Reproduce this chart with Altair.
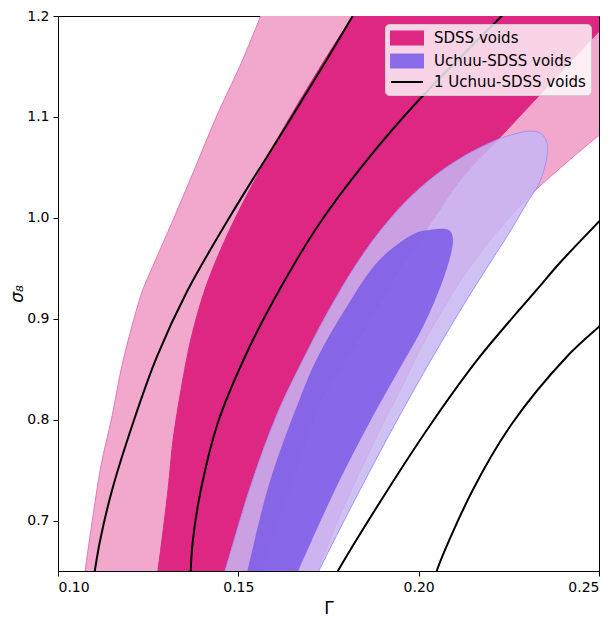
import altair as alt
import pandas as pd

SERIES = ["SDSS voids", "Uchuu-SDSS voids", "1 Uchuu-SDSS voids"]
X_TICKS = [0.10, 0.15, 0.20, 0.25]
Y_TICKS = [0.7, 0.8, 0.9, 1.0, 1.1, 1.2]

# SDSS voids, outer (2 sigma) contour: left edge bottom->top, right edge top->bottom
lp_left_x = [0.1071, 0.1075, 0.1097, 0.1119, 0.1150, 0.1177, 0.1213, 0.1235, 0.1263, 0.1324, 0.1382, 0.1440, 0.1504, 0.1562, 0.1573]
lp_left_y = [0.640, 0.650, 0.7045, 0.754, 0.8036, 0.853, 0.903, 0.9285, 0.952, 1.002, 1.051, 1.101, 1.150, 1.200, 1.210]
lp_right_x = [0.2704, 0.2704, 0.2494, 0.2411, 0.2323, 0.2253, 0.2183, 0.2130, 0.2083, 0.2000, 0.1949, 0.1902, 0.1859, 0.1813, 0.1765, 0.1720, 0.1710]
lp_right_y = [1.210, 1.140, 1.080, 1.055, 1.027, 1.001, 0.971, 0.945, 0.919, 0.867, 0.829, 0.797, 0.765, 0.730, 0.691, 0.650, 0.640]

# SDSS voids, inner (1 sigma) contour
dp_left_x = [0.1273, 0.1277, 0.1305, 0.1319, 0.1341, 0.1368, 0.1407, 0.1452, 0.1504, 0.1582, 0.1645, 0.1748, 0.1817, 0.1834]
dp_left_y = [0.640, 0.650, 0.7303, 0.7798, 0.8294, 0.8789, 0.9285, 0.9691, 1.0087, 1.0613, 1.1009, 1.1614, 1.200, 1.210]
dp_right_x = [0.2568, 0.2501, 0.2299, 0.2216, 0.2122, 0.2036, 0.1975, 0.1898, 0.1812, 0.1731, 0.1645, 0.1565, 0.1556]
dp_right_y = [1.210, 1.1851, 1.1078, 1.0761, 1.0405, 0.9959, 0.9651, 0.9186, 0.867, 0.8195, 0.7352, 0.650, 0.640]

# Uchuu-SDSS voids, outer contour
op_left_x = [0.1454, 0.1463, 0.1537, 0.1609, 0.1679, 0.1756, 0.1848, 0.1942, 0.2030, 0.2122, 0.2216, 0.2266, 0.2313]
op_left_y = [0.640, 0.650, 0.7372, 0.8066, 0.8591, 0.9116, 0.9651, 1.0077, 1.0375, 1.0603, 1.0771, 1.0831, 1.086]
op_right_x = [0.2341, 0.2355, 0.2357, 0.2349, 0.2332, 0.2305, 0.2256, 0.2203, 0.2133, 0.2039, 0.1936, 0.1856, 0.1780, 0.1723, 0.1709]
op_right_y = [1.0831, 1.0751, 1.0652, 1.0494, 1.0325, 1.0177, 0.9879, 0.9582, 0.9186, 0.8621, 0.7967, 0.7431, 0.6906, 0.650, 0.640]

# Uchuu-SDSS voids, inner contour
ip_left_x = [0.1519, 0.1526, 0.1587, 0.1670, 0.1717, 0.1801, 0.1892, 0.1994, 0.2036, 0.2066]
ip_left_y = [0.640, 0.650, 0.7372, 0.8195, 0.8591, 0.9116, 0.9582, 0.985, 0.9879, 0.9889]
ip_right_x = [0.2086, 0.2094, 0.2091, 0.2066, 0.2011, 0.1939, 0.1867, 0.1776, 0.1665, 0.1653]
ip_right_y = [0.987, 0.980, 0.968, 0.938, 0.892, 0.846, 0.800, 0.737, 0.650, 0.640]

# 1 Uchuu-SDSS voids: four contour lines
bl1_x = [0.1098, 0.1102, 0.1117, 0.1150, 0.1208, 0.1274, 0.1357, 0.1476, 0.1643, 0.1748, 0.1817, 0.1834]
bl1_y = [0.640, 0.650, 0.6807, 0.7303, 0.7967, 0.8621, 0.9265, 1.0008, 1.0969, 1.1584, 1.200, 1.210]
bl2_x = [0.1368, 0.1368, 0.1374, 0.1396, 0.1443, 0.1518, 0.1609, 0.1726, 0.1850, 0.2003, 0.2230, 0.2257]
bl2_y = [0.640, 0.650, 0.6807, 0.7303, 0.7967, 0.8621, 0.9255, 0.9949, 1.0543, 1.1177, 1.200, 1.210]
bl3_x = [0.1761, 0.1776, 0.1914, 0.2036, 0.2169, 0.2327, 0.2391, 0.2499, 0.2515]
bl3_y = [0.640, 0.650, 0.7303, 0.7967, 0.8621, 0.9285, 0.9552, 0.9959, 1.0020]
bl4_x = [0.2043, 0.2050, 0.2150, 0.2260, 0.2410, 0.2499, 0.2515]
bl4_y = [0.640, 0.650, 0.7303, 0.7967, 0.8621, 0.8918, 0.8970]

LIGHT_PINK = "#f1a8cc"
PINK_EDGE = "#e678b1"
DARK_PINK = "#de2783"
LAVENDER = "#c8b6f3"
LAV_EDGE = "#a394f3"
PURPLE = "#7a5ae8"

RECT = "M-2,-0.8H2V0.8H-2Z"
LINE = "M-2,0H2"


def polygon(left_x, left_y, right_x, right_y):
    xs = list(left_x) + list(right_x)
    ys = list(left_y) + list(right_y)
    return pd.DataFrame({"gamma": xs, "sigma8": ys, "order": list(range(len(xs)))})


lines = []
for k, (lx, ly) in enumerate([(bl1_x, bl1_y), (bl2_x, bl2_y), (bl3_x, bl3_y), (bl4_x, bl4_y)]):
    lines.append(pd.DataFrame({"gamma": lx, "sigma8": ly, "order": list(range(len(lx))), "line": k}))
lines_df = pd.concat(lines, ignore_index=True)

x_scale = alt.Scale(domain=[0.10, 0.25], nice=False, zero=False)
y_scale = alt.Scale(domain=[0.65, 1.2], nice=False, zero=False)

axis_common = dict(grid=False, tickSize=5, tickColor="black", domainColor="black",
                   labelColor="black", titleColor="black", labelFont="DejaVu Sans",
                   titleFont="DejaVu Sans", labelFontSize=14, titleFontSize=17,
                   titleFontWeight="normal", labelPadding=4, tickWidth=1, domainWidth=1)
x_axis = alt.Axis(values=X_TICKS, format=".2f", title="Γ", titlePadding=6, **axis_common)
y_axis = alt.Axis(values=Y_TICKS, format=".1f", title="σ₈", titlePadding=0,
                  titleFontStyle="italic", **axis_common)

X = alt.X("gamma:Q", scale=x_scale, axis=x_axis)
Y = alt.Y("sigma8:Q", scale=y_scale, axis=y_axis)


def filled(df, fill, fill_opacity, stroke, stroke_width):
    return alt.Chart(df).mark_line(
        fill=fill, fillOpacity=fill_opacity, stroke=stroke, strokeWidth=stroke_width,
        clip=True, interpolate="catmull-rom"
    ).encode(x=X, y=Y, order="order:Q")


light_pink = filled(polygon(lp_left_x, lp_left_y, lp_right_x, lp_right_y), LIGHT_PINK, 1, PINK_EDGE, 1)
dark_pink = filled(polygon(dp_left_x, dp_left_y, dp_right_x, dp_right_y), DARK_PINK, 1, DARK_PINK, 1)
outer_purple = filled(polygon(op_left_x, op_left_y, op_right_x, op_right_y), LAVENDER, 0.85, LAV_EDGE, 1)
inner_purple = filled(polygon(ip_left_x, ip_left_y, ip_right_x, ip_right_y), PURPLE, 0.85, PURPLE, 0.5)

black_lines = alt.Chart(lines_df).mark_line(
    color="black", strokeWidth=2, clip=True, interpolate="catmull-rom"
).encode(x=X, y=Y, order="order:Q", detail="line:N")

leg_df = pd.DataFrame({"series": SERIES, "gamma": [0.0] * 3, "sigma8": [0.0] * 3})
legend = alt.Legend(
    title=None, orient="top-right", offset=8, fillColor="rgba(255,255,255,0.8)",
    strokeColor="#cccccc", cornerRadius=4, padding=5, labelFont="DejaVu Sans",
    labelFontSize=15, labelColor="black", symbolSize=256, symbolStrokeWidth=2,
    symbolOffset=8, labelOffset=18, rowPadding=1, symbolOpacity=1, labelLimit=300,
)
legend_layer = alt.Chart(leg_df).mark_point(filled=True, clip=True).encode(
    x=X, y=Y,
    color=alt.Color("series:N", scale=alt.Scale(domain=SERIES, range=[DARK_PINK, "#8a6ceb", "black"]), legend=legend),
    stroke=alt.Stroke("series:N", scale=alt.Scale(domain=SERIES, range=[DARK_PINK, "#8a6ceb", "black"]), legend=legend),
    shape=alt.Shape("series:N", scale=alt.Scale(domain=SERIES, range=[RECT, RECT, LINE]), legend=legend),
)

chart = alt.layer(
    light_pink, dark_pink, outer_purple, inner_purple, black_lines, legend_layer
).properties(
    width=541, height=555,
    autosize=alt.AutoSizeParams(type="none"),
    padding={"left": 50, "top": 8, "right": 8, "bottom": 46},
    background="white",
).configure_view(stroke="black", strokeWidth=1)

chart.save("out.html", embed_options={"renderer": "svg", "actions": False})
